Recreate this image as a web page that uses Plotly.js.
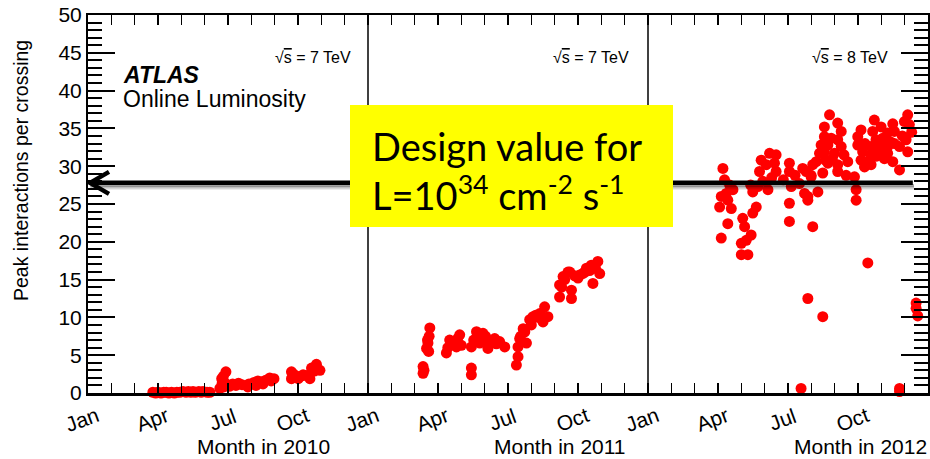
<!DOCTYPE html>
<html>
<head>
<meta charset="utf-8">
<script src="https://cdn.plot.ly/plotly-3.0.1.min.js"></script>
<style>html,body{margin:0;padding:0;background:#fff;}#chart{width:930px;height:459px;}</style>
</head>
<body>
<div id="chart"></div>
<script>
// x values: months since 1 Jan 2010 ; y values: peak interactions per crossing
const x2010 = [2.78,2.9,3.0,3.13,3.25,3.35,3.47,3.58,3.7,3.81,3.94,4.07,4.2,4.3,4.41,4.5,4.6,4.75,4.85,4.93,5.1,5.22,
  5.65,5.73,5.8,5.75,5.91,5.82,5.85,6.08,6.2,6.34,6.45,6.6,6.85,6.9,7.11,7.2,7.28,7.45,7.5,7.62,7.79,7.85,7.97,
  8.72,8.72,8.85,9.01,9.1,9.22,9.35,9.51,9.58,9.7,9.79,9.94];
const y2010 = [0.1,0.0,0.1,0.0,0.1,0.1,0.0,0.1,0.0,0.1,0.1,0.2,0.1,0.2,0.1,0.2,0.1,0.2,0.1,0.2,0.1,0.1,
  0.6,1.9,2.2,1.3,2.8,0.8,1.4,0.9,1.2,1.0,1.3,1.1,0.8,1.2,1.4,1.0,1.6,1.5,1.2,1.7,2.0,1.6,1.9,
  2.8,1.9,2.4,1.9,2.2,2.4,2.3,1.9,3.3,2.9,3.8,3.0];

const x2011 = [14.36,14.36,14.4,14.65,14.62,14.57,14.51,14.6,14.55,
  15.36,15.42,15.5,15.59,15.72,15.79,15.84,15.93,16.0,15.65,
  16.43,16.43,
  16.43,16.53,16.65,16.79,16.93,17.04,17.14,17.26,17.43,17.64,17.86,17.0,16.7,17.5,
  18.36,18.43,18.43,18.5,18.54,18.72,18.79,18.93,19.07,19.19,19.36,19.5,19.57,19.71,18.65,19.0,19.3,
  20.21,20.21,20.36,20.43,20.57,20.72,20.72,20.86,21.07,21.2,21.36,21.5,21.57,21.64,21.71,21.85,21.93,20.3,20.65,21.0,21.3,21.75];
const y2011 = [3.5,2.6,3.0,8.6,7.5,6.6,5.9,5.5,7.0,
  5.3,6.0,7.0,6.5,6.8,6.1,7.2,7.7,6.3,6.6,
  3.3,2.4,
  6.1,7.0,8.1,6.6,7.9,7.5,5.9,6.8,7.2,6.8,6.1,6.9,7.3,6.5,
  3.7,4.8,6.1,7.2,7.5,8.1,6.6,9.7,10.1,10.3,10.5,9.4,11.4,10.1,8.5,9.0,10.0,
  14.3,12.7,15.4,15.0,16.0,12.5,13.6,15.5,15.6,15.8,16.5,16.2,16.9,14.5,16.8,17.4,15.8,14.0,16.0,15.2,16.0,16.5];

const x2012 = [27.21,27.28,27.14,27.35,27.64,27.07,27.42,27.57,27.42,27.14,27.5,
  28.06,28.14,28.0,28.0,28.28,28.42,28.21,28.49,28.64,28.49,28.71,28.78,28.85,29.07,29.21,29.49,29.42,29.49,29.14,28.92,28.4,29.3,
  30.06,30.06,30.14,30.06,30.06,30.63,30.49,30.71,30.85,31.06,30.99,29.8,30.3,
  31.78,31.56,32.13,32.28,31.56,31.85,32.13,31.42,31.71,32.28,31.35,31.99,31.56,31.21,31.06,31.71,32.13,32.56,32.13,32.49,32.85,31.49,30.78,30.99,32.92,32.92,31.28,30.85,31.9,32.4,31.6,
  33.13,32.99,32.99,33.2,33.13,33.28,33.56,33.7,33.63,33.99,33.77,34.06,34.27,34.49,34.56,33.56,33.92,34.27,34.56,33.77,34.13,33.49,34.49,34.78,34.99,35.13,35.06,35.13,34.78,34.27,33.56,34.0,34.4,33.3,34.9,35.2,35.3,
  33.42,30.85,31.49,30.56,34.78,34.78,35.49,35.49,35.56];
const y2012 = [29.7,28.2,26.0,26.4,26.9,24.6,25.5,24.4,22.4,20.5,27.5,
  23.1,22.0,19.8,18.3,18.3,20.9,20.2,23.8,24.6,26.6,27.3,29.3,30.8,30.2,31.7,31.5,30.4,29.3,26.9,28.0,27.5,28.5,
  30.4,29.3,27.3,25.1,22.7,29.7,27.7,26.4,25.5,22.0,28.6,28.2,28.8,
  36.8,35.2,35.7,34.6,33.9,33.7,33.5,32.8,32.8,32.6,31.7,31.7,31.9,30.6,30.2,30.4,30.2,30.6,29.3,28.8,28.6,29.1,29.3,28.8,26.9,25.5,26.6,26.0,31.0,31.5,30.8,
  34.8,33.9,32.8,31.9,30.8,29.9,30.2,36.1,34.6,35.2,33.5,33.7,34.4,35.6,34.6,32.6,32.1,32.6,33.0,31.3,31.0,30.8,30.6,29.5,35.9,36.8,33.5,31.9,32.6,31.7,31.5,32.8,33.2,33.0,34.0,35.5,34.5,
  17.2,12.5,10.1,0.6,0.6,0.2,11.9,11.2,10.2];

const monthTickVals = [0,3,6,9,12,15,18,21,24,27,30,33];
const monthTickText = ['Jan','Apr','Jul','Oct','Jan','Apr','Jul','Oct','Jan','Apr','Jul','Oct'];
const yearTitles = ['Month in 2010','Month in 2011','Month in 2012'];
const energyLabels = ['7 TeV','7 TeV','8 TeV'];
const yearBoundaries = [12,24];
const designValue = 27.8;

const fam = 'Liberation Sans, Arial, Helvetica, sans-serif';
const L = 88, R = 928, T = 15, B = 393;
const px = x => (x - L) / (R - L);
const py = y => (B - y) / (B - T);

const marker = {color:'#ff0000', size:11, line:{width:0}};
const traces = [[x2010,y2010],[x2011,y2011],[x2012,y2012]].map(d => ({
  x:d[0], y:d[1], type:'scatter', mode:'markers', marker:marker, cliponaxis:false, hoverinfo:'skip'
}));

const shapes = [];
yearBoundaries.forEach(b => shapes.push({type:'line', xref:'x', yref:'paper', x0:b, x1:b, y0:0, y1:1, layer:'above', line:{color:'black', width:1.5}}));
// shadow of arrow
[[0.30,0.35],[0.18,0.55],[0.08,0.75]].forEach(s => shapes.push({type:'line', xref:'x', yref:'y', x0:0.1, x1:35.4, y0:designValue - s[1], y1:designValue - s[1], layer:'above', line:{color:'rgba(0,0,0,'+s[0]+')', width:3}}));
shapes.push({type:'line', xref:'x', yref:'y', x0:0.05, x1:35.35, y0:designValue, y1:designValue, layer:'above', line:{color:'black', width:4.5}});
shapes.push({type:'path', xref:'x', yref:'y', xsizemode:'pixel', ysizemode:'pixel', xanchor:0, yanchor:designValue,
  path:'M 21 11 L 2 0 L 21 -11', layer:'above', line:{color:'black', width:4.5}});
shapes.push({type:'rect', xref:'paper', yref:'paper', x0:px(350), x1:px(673), y0:py(227), y1:py(105), fillcolor:'#ffff00', line:{width:0}, layer:'above'});

const annotations = [];
monthTickVals.forEach((v,i) => annotations.push({x:v, xref:'x', y:py(419), yref:'paper', text:monthTickText[i], showarrow:false,
  textangle:-20, xanchor:'center', yanchor:'middle', xshift:-6, font:{family:fam, size:21, color:'black'}}));
[263,560,860].forEach((c,i) => annotations.push({x:px(c), xref:'paper', y:py(446), yref:'paper', text:yearTitles[i], showarrow:false,
  xanchor:'center', yanchor:'middle', font:{family:fam, size:21, color:'black'}}));
[313,591,850].forEach((c,i) => annotations.push({x:px(c), xref:'paper', y:py(57), yref:'paper',
  text:'√<span style="text-decoration:overline">s</span> = '+energyLabels[i], showarrow:false,
  xanchor:'center', yanchor:'middle', font:{family:fam, size:16, color:'black'}}));
annotations.push({x:px(21), xref:'paper', y:py(171), yref:'paper', text:'Peak interactions per crossing', textangle:-90, showarrow:false,
  xanchor:'center', yanchor:'middle', font:{family:fam, size:19.5, color:'black'}});
annotations.push({x:px(121), xref:'paper', y:py(75), yref:'paper', text:'<b><i>ATLAS</i></b>', showarrow:false,
  xanchor:'left', yanchor:'middle', font:{family:fam, size:23, color:'black'}});
annotations.push({x:px(121), xref:'paper', y:py(99), yref:'paper', text:'Online Luminosity', showarrow:false,
  xanchor:'left', yanchor:'middle', font:{family:fam, size:23, color:'black'}});
annotations.push({x:px(370), xref:'paper', y:py(146), yref:'paper', text:'Design value for', showarrow:false,
  xanchor:'left', yanchor:'middle', font:{family:'Lato, sans-serif', size:38, color:'black'}});
annotations.push({x:px(370), xref:'paper', y:py(193), yref:'paper', text:'L=10<sup>34</sup> cm<sup>-2</sup> s<sup>-1</sup>', showarrow:false,
  xanchor:'left', yanchor:'middle', font:{family:'Lato, sans-serif', size:38, color:'black'}});

const layout = {
  width:930, height:459,
  margin:{l:L, r:930-R, t:T, b:459-B},
  paper_bgcolor:'white', plot_bgcolor:'white',
  showlegend:false,
  xaxis:{range:[0,36], tickmode:'linear', tick0:0, dtick:1, ticks:'inside', ticklen:10, tickwidth:1.5, tickcolor:'black',
    showticklabels:false, showline:true, linewidth:2.5, linecolor:'black', mirror:'allticks', showgrid:false, zeroline:false},
  yaxis:{range:[0,50], tickmode:'linear', tick0:0, dtick:5, ticks:'inside', ticklen:27, tickwidth:2, tickcolor:'black',
    minor:{tickmode:'linear', tick0:0, dtick:1, ticks:'inside', ticklen:14, tickwidth:2, tickcolor:'black'},
    showline:true, linewidth:2, linecolor:'black', mirror:'allticks', showgrid:false, zeroline:false,
    tickfont:{family:fam, size:21, color:'black'}},
  shapes:shapes,
  annotations:annotations
};
Plotly.newPlot('chart', traces, layout, {displayModeBar:false, staticPlot:true});
</script>
</body>
</html>
